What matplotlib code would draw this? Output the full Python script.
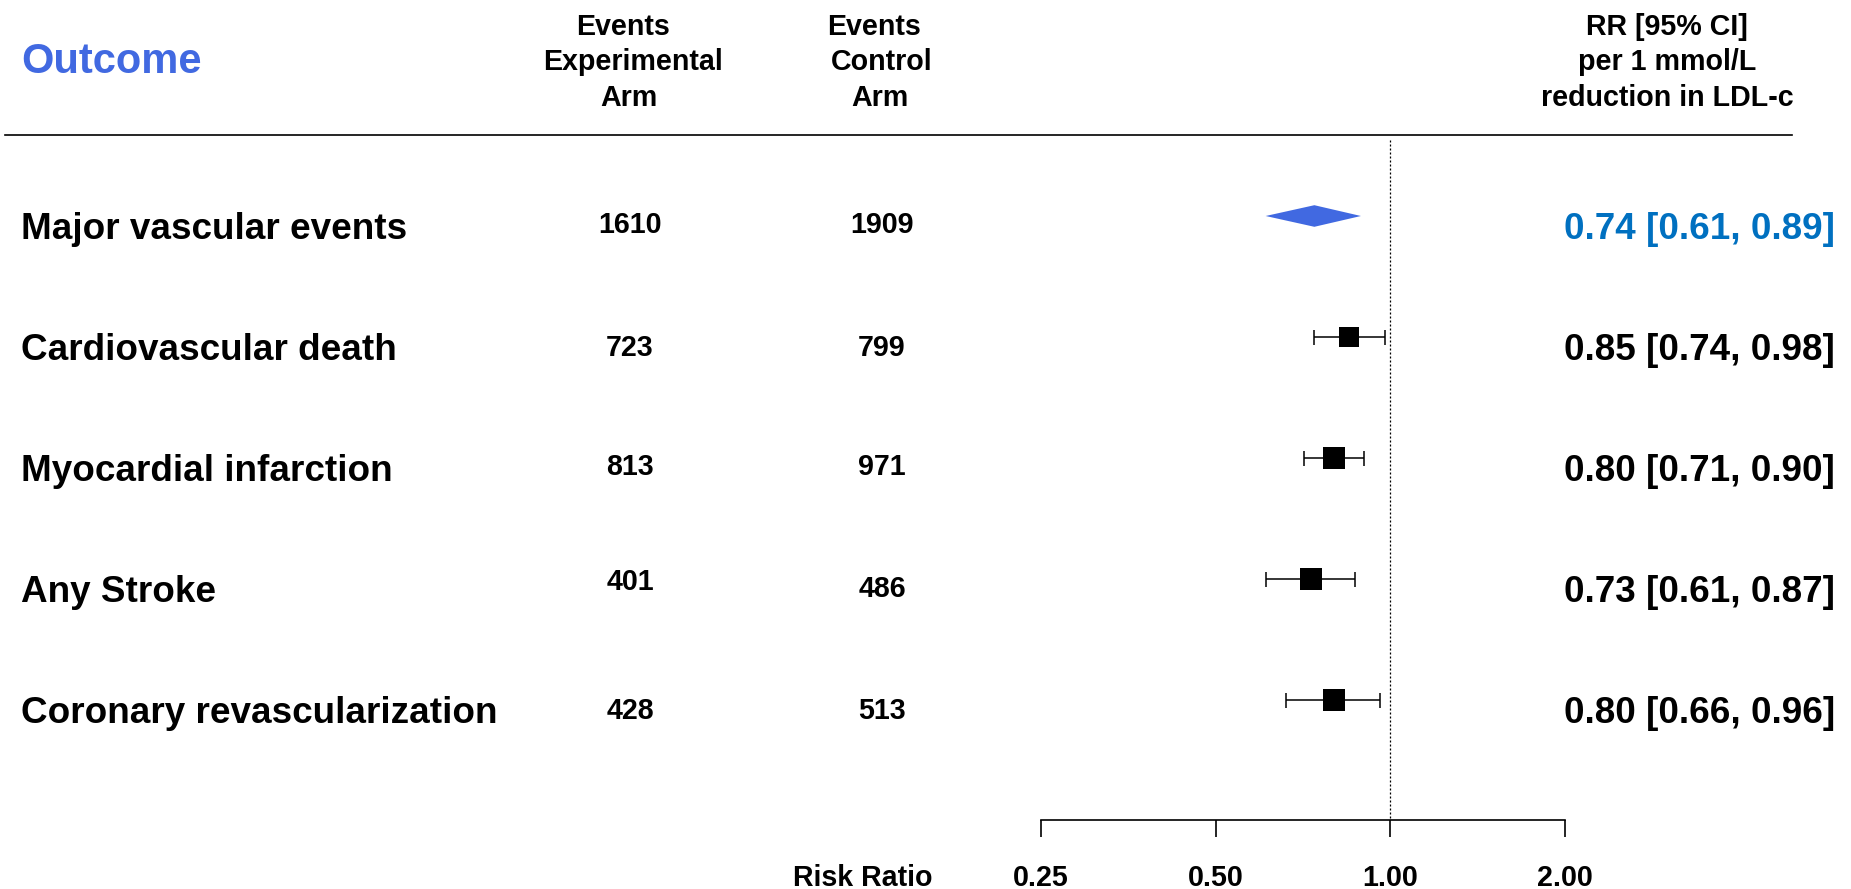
import matplotlib
matplotlib.use("Agg")
import matplotlib.pyplot as plt
from matplotlib.lines import Line2D
from matplotlib.ticker import NullLocator, FixedLocator, FixedFormatter

# ---------------- data ----------------
outcomes = ["Major vascular events", "Cardiovascular death", "Myocardial infarction",
            "Any Stroke", "Coronary revascularization"]
events_exp = [1610, 723, 813, 401, 428]
events_ctrl = [1909, 799, 971, 486, 513]
rr = [0.74, 0.85, 0.80, 0.73, 0.80]
ci_low = [0.61, 0.74, 0.71, 0.61, 0.66]
ci_high = [0.89, 0.98, 0.90, 0.87, 0.96]
is_summary = [True, False, False, False, False]
tick_values = [0.25, 0.50, 1.00, 2.00]
tick_labels = ["0.25", "0.50", "1.00", "2.00"]
header_exp = ["Events", "Experimental", "Arm"]
header_ctrl = ["Events", "Control", "Arm"]
header_rr = ["RR [95% CI]", "per 1 mmol/L", "reduction in LDL-c"]

# ---------------- style / layout ----------------
plt.rcParams["font.family"] = ["Liberation Sans", "DejaVu Sans"]
plt.rcParams["font.weight"] = "bold"
ROYAL = "#4169E1"
RR_BLUE = "#0070C0"
W, H = 1851, 889
ROW0, ROW_STEP = 216.0, 121.0          # pixel y of first row, row spacing
X_ONE, PX_DOUBLE = 1390.3, 174.8       # pixel x of RR=1, pixels per doubling
AXIS_Y, REF_TOP = 820.0, 140.0
square_px = [0, 21, 23, 23, 23]
FS_LABEL, FS_SMALL, FS_TITLE = 26.6, 20.6, 30.0


def fx(px):
    return px / W


def fy(py):
    return 1 - py / H


def row_of(py):
    return (py - ROW0) / ROW_STEP


fig = plt.figure(figsize=(W / 100, H / 100), dpi=100)
fig.patch.set_facecolor("white")
ax = fig.add_axes([0, 0, 1, 1])
ax.set_facecolor("none")
ax.set_xscale("log", base=2)
ax.set_xlim(2 ** ((0 - X_ONE) / PX_DOUBLE), 2 ** ((W - X_ONE) / PX_DOUBLE))
ax.set_ylim(row_of(H), row_of(0))

# reference line at RR = 1
ax.plot([1.0, 1.0], [row_of(REF_TOP), row_of(AXIS_Y)], color="black", lw=0.9,
        linestyle=(0, (1.6, 1.6)), zorder=1)

# estimates
for i in range(len(outcomes)):
    if is_summary[i]:
        h = 10.8 / ROW_STEP
        ax.fill([ci_low[i], rr[i], ci_high[i], rr[i]], [i, i - h, i, i + h],
                color=ROYAL, lw=0, zorder=3)
    else:
        ax.errorbar([rr[i]], [i], xerr=[[rr[i] - ci_low[i]], [ci_high[i] - rr[i]]],
                    fmt="none", ecolor="black", elinewidth=1.1, capsize=5.4,
                    capthick=1.1, zorder=2)
        ax.plot([rr[i]], [i], marker="s", linestyle="none", color="black",
                markersize=square_px[i] / 1.389, markeredgewidth=0, zorder=3)

# x axis (R style)
for s in ["left", "top", "right"]:
    ax.spines[s].set_visible(False)
ax.spines["bottom"].set_position(("data", row_of(AXIS_Y)))
ax.spines["bottom"].set_bounds(tick_values[0], tick_values[-1])
ax.spines["bottom"].set_linewidth(1.2)
ax.xaxis.set_major_locator(FixedLocator(tick_values))
ax.xaxis.set_major_formatter(FixedFormatter(tick_labels))
ax.xaxis.set_minor_locator(NullLocator())
ax.tick_params(axis="x", which="major", direction="out", length=12, width=1.2,
               pad=20, labelsize=FS_SMALL, colors="black")
ax.set_yticks([])

# header line
fig.add_artist(Line2D([fx(5), fx(1792)], [fy(135), fy(135)], color="black", lw=1.2,
                      transform=fig.transFigure))

# headers
fig.text(fx(21), fy(72.7), "Outcome", color=ROYAL, fontsize=FS_TITLE,
         ha="left", va="baseline")
for txt, xc, yb in zip(header_exp, [623, 633, 629], [35, 70.5, 106]):
    fig.text(fx(xc), fy(yb), txt, fontsize=FS_SMALL, ha="center", va="baseline")
for txt, xc, yb in zip(header_ctrl, [874, 882, 880], [35, 70.5, 106]):
    fig.text(fx(xc), fy(yb), txt, fontsize=FS_SMALL, ha="center", va="baseline")
for txt, yb in zip(header_rr, [35, 70.5, 106]):
    fig.text(fx(1667), fy(yb), txt, fontsize=FS_SMALL, ha="center", va="baseline")

# rows
num_off_exp = [17, 18.5, 17, 11, 19]
num_off_ctrl = [17, 18.5, 17, 18, 19]
for i in range(len(outcomes)):
    y_row = ROW0 + ROW_STEP * i
    fig.text(fx(21), fy(y_row + 23), outcomes[i], fontsize=FS_LABEL,
             ha="left", va="baseline")
    fig.text(fx(630), fy(y_row + num_off_exp[i]), str(events_exp[i]),
             fontsize=FS_SMALL, ha="center", va="baseline")
    fig.text(fx(882), fy(y_row + num_off_ctrl[i]), str(events_ctrl[i]),
             fontsize=FS_SMALL, ha="center", va="baseline")
    label = f"{rr[i]:.2f} [{ci_low[i]:.2f}, {ci_high[i]:.2f}]"
    fig.text(fx(1835), fy(y_row + 23), label, fontsize=FS_LABEL,
             color=RR_BLUE if is_summary[i] else "black", ha="right", va="baseline")

fig.text(fx(863), fy(886), "Risk Ratio", fontsize=FS_SMALL, ha="center", va="baseline")

fig.savefig("out.png", dpi=100, facecolor="white")
